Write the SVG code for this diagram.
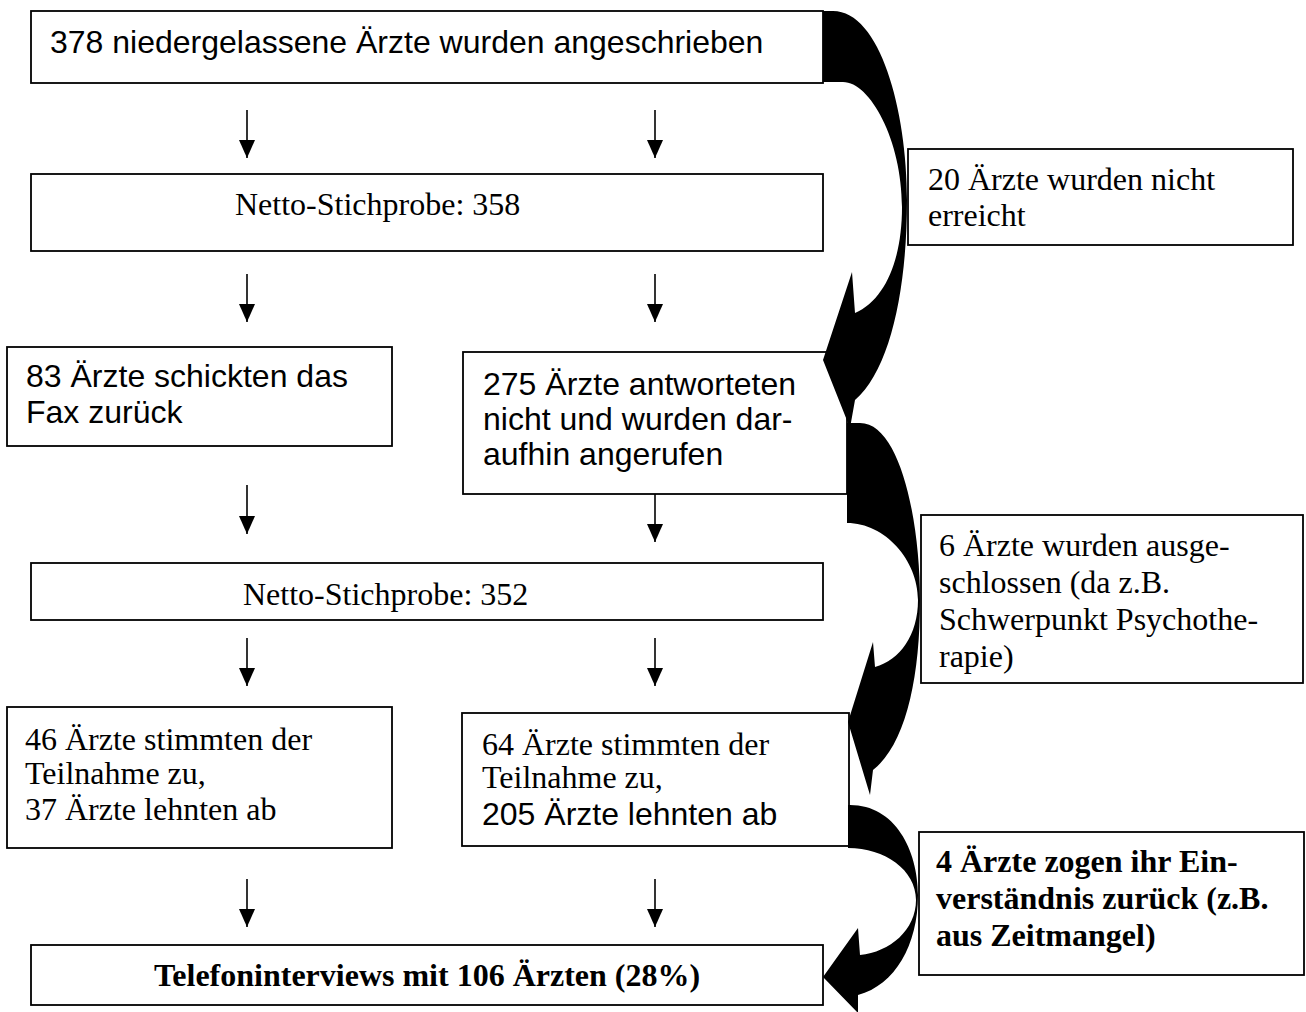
<svg xmlns="http://www.w3.org/2000/svg" width="1306" height="1012" viewBox="0 0 1306 1012">
<defs>
<style>
.box{fill:#fff;stroke:#000;stroke-width:1.8}
.sans{font-family:"Liberation Sans",Arial,sans-serif;font-size:32px;fill:#000}
.serif{font-family:"Liberation Serif","Times New Roman",serif;font-size:32px;fill:#000}
.bold{font-weight:bold}
.arr{stroke:#000;stroke-width:1.6;fill:none}
.big{fill:#000;stroke:none}
</style>
<marker id="head" markerUnits="userSpaceOnUse" markerWidth="18" markerHeight="16" viewBox="0 -8 18 16" refX="18" refY="0" orient="auto">
<path d="M0,-8 L18,0 L0,8 Z" fill="#000"/>
</marker>
</defs>
<rect width="1306" height="1012" fill="#fff"/>

<g id="n-angeschrieben"><rect class="box" x="31" y="11" width="792" height="72"/><text class="sans" x="50" y="53">378 niedergelassene Ärzte wurden angeschrieben</text></g>
<g id="n-netto358"><rect class="box" x="31" y="174" width="792" height="77"/><text class="serif" x="235" y="215">Netto-Stichprobe: 358</text></g>
<g id="n-nichterreicht"><rect class="box" x="908" y="149" width="385" height="96"/><text class="serif" x="928" y="190">20 Ärzte wurden nicht</text><text class="serif" x="928" y="226">erreicht</text></g>
<g id="n-fax"><rect class="box" x="7" y="347" width="385" height="99"/><text class="sans" x="26" y="387">83 Ärzte schickten das</text><text class="sans" x="26" y="423">Fax zurück</text></g>
<g id="n-angerufen"><rect class="box" x="463" y="352" width="384" height="142"/><text class="sans" x="483" y="395">275 Ärzte antworteten</text><text class="sans" x="483" y="430">nicht und wurden dar-</text><text class="sans" x="483" y="465">aufhin angerufen</text></g>
<g id="n-ausgeschlossen"><rect class="box" x="921" y="515" width="382" height="168"/><text class="serif" x="939" y="556">6 Ärzte wurden ausge-</text><text class="serif" x="939" y="593">schlossen (da z.B.</text><text class="serif" x="939" y="630">Schwerpunkt Psychothe-</text><text class="serif" x="939" y="667">rapie)</text></g>
<g id="n-netto352"><rect class="box" x="31" y="563" width="792" height="57"/><text class="serif" x="243" y="605">Netto-Stichprobe: 352</text></g>
<g id="n-teilnahme1"><rect class="box" x="7" y="707" width="385" height="141"/><text class="serif" x="25" y="750">46 Ärzte stimmten der</text><text class="serif" x="25" y="784">Teilnahme zu,</text><text class="serif" x="25" y="820">37 Ärzte lehnten ab</text></g>
<g id="n-teilnahme2"><rect class="box" x="462" y="713" width="387" height="133"/><text class="serif" x="482" y="755">64 Ärzte stimmten der</text><text class="serif" x="482" y="788">Teilnahme zu,</text><text class="sans" x="482" y="825">205 Ärzte lehnten ab</text></g>
<g id="n-zurueck"><rect class="box" x="919" y="832" width="385" height="143"/><text class="serif bold" x="936" y="872">4 Ärzte zogen ihr Ein-</text><text class="serif bold" x="936" y="909">verständnis zurück (z.B.</text><text class="serif bold" x="936" y="946">aus Zeitmangel)</text></g>
<g id="n-telefon"><rect class="box" x="31" y="945" width="792" height="60"/><text class="serif bold" x="427" y="986" text-anchor="middle">Telefoninterviews mit 106 Ärzten (28%)</text></g>

<g id="connectors">
<line class="arr" x1="247" y1="110" x2="247" y2="158" marker-end="url(#head)"/>
<line class="arr" x1="655" y1="110" x2="655" y2="158" marker-end="url(#head)"/>
<line class="arr" x1="247" y1="274" x2="247" y2="322" marker-end="url(#head)"/>
<line class="arr" x1="655" y1="274" x2="655" y2="322" marker-end="url(#head)"/>
<line class="arr" x1="247" y1="485" x2="247" y2="534" marker-end="url(#head)"/>
<line class="arr" x1="655" y1="494" x2="655" y2="542" marker-end="url(#head)"/>
<line class="arr" x1="247" y1="638" x2="247" y2="686" marker-end="url(#head)"/>
<line class="arr" x1="655" y1="638" x2="655" y2="686" marker-end="url(#head)"/>
<line class="arr" x1="247" y1="879" x2="247" y2="927" marker-end="url(#head)"/>
<line class="arr" x1="655" y1="879" x2="655" y2="927" marker-end="url(#head)"/>
<path class="big" d="M823,11 L833,11 C880,11 907,110 907,200 C907,290 890,370 855,400 L850,428 L823,360 L852,272 L855,313 C885,300 902,260 902,207 C902,140 870,82 843,82 L823,82 Z"/>
<path class="big" d="M847,423 L860,423 C900,423 920,520 920,600 C920,680 905,745 873,770 L870,795 L848,722 L873,642 L875,667 C900,660 918,635 918,600 C918,560 885,523 847,523 Z"/>
<path class="big" d="M848,805 L850,805 C895,805 918,850 918,895 C918,945 895,985 858,995 L858,1013 L823,977 L858,928 L860,955 C890,952 916,930 916,900 C916,870 885,848 848,848 Z"/>
</g>
</svg>
